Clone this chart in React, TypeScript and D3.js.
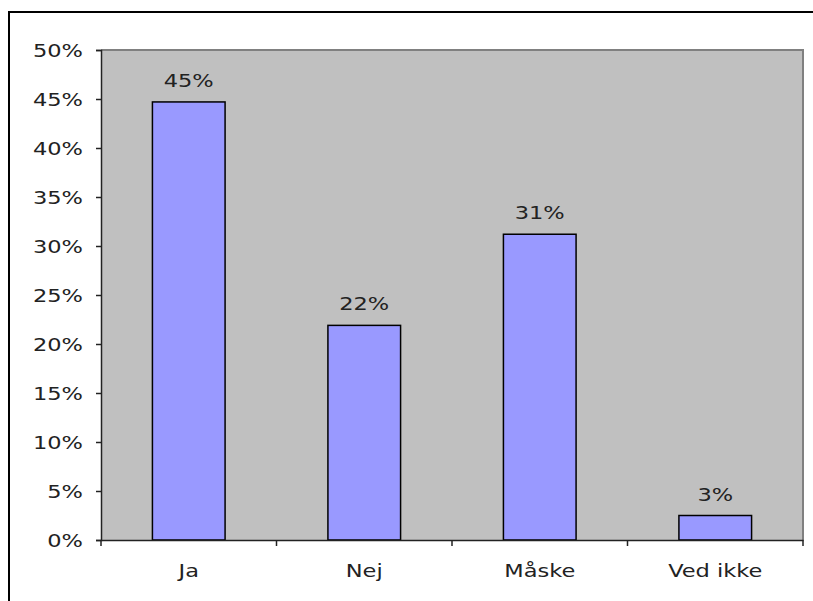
import React, { useEffect, useRef } from 'react';
import * as d3 from 'd3';

const categories = ['Ja', 'Nej', 'Måske', 'Ved ikke'];
const values = [0.447, 0.219, 0.312, 0.025];
const valueLabels = ['45%', '22%', '31%', '3%'];
const yTicks = [0, 0.05, 0.1, 0.15, 0.2, 0.25, 0.3, 0.35, 0.4, 0.45, 0.5];

const W = 813;
const H = 601;
const FONT = '"DejaVu Sans", Verdana, sans-serif';
const FS = 18;
const STRETCH = 1.25;

const App: React.FC = () => {
  const ref = useRef<SVGSVGElement | null>(null);

  useEffect(() => {
    if (!ref.current) return;
    const svg = d3.select(ref.current);
    svg.selectAll('*').remove();

    const left = 101, right = 803, top = 50, bottom = 540;

    // slightly wide text like the original rendering
    const label = (g: d3.Selection<any, any, any, any>, x: number, y: number, txt: string, anchor: string) =>
      g.append('text')
        .attr('transform', `translate(${x},${y}) scale(${STRETCH},1)`)
        .attr('text-anchor', anchor)
        .attr('font-family', FONT)
        .attr('font-size', FS)
        .attr('fill', '#222')
        .text(txt);

    // outer chart frame
    svg.append('rect')
      .attr('x', 9).attr('y', 12)
      .attr('width', W + 10).attr('height', H + 10)
      .attr('fill', '#fff').attr('stroke', '#000').attr('stroke-width', 2);

    const x = d3.scaleBand<string>().domain(categories).range([left, right]);
    const y = d3.scaleLinear().domain([0, 0.5]).range([bottom, top]);

    // plot area
    svg.append('rect')
      .attr('x', left).attr('y', top)
      .attr('width', right - left).attr('height', bottom - top)
      .attr('fill', '#c0c0c0');
    svg.append('path')
      .attr('d', `M${left},${top}H${right}V${bottom}`)
      .attr('fill', 'none').attr('stroke', '#808080').attr('stroke-width', 2);

    const barW = x.bandwidth() * 0.414;

    svg.append('g').selectAll('rect')
      .data(categories)
      .join('rect')
      .attr('x', d => (x(d) as number) + (x.bandwidth() - barW) / 2)
      .attr('y', (d, i) => y(values[i]))
      .attr('width', barW)
      .attr('height', (d, i) => bottom - y(values[i]))
      .attr('fill', '#9999ff')
      .attr('stroke', '#000')
      .attr('stroke-width', 1.5);

    const vl = svg.append('g');
    categories.forEach((c, i) => {
      label(vl, (x(c) as number) + x.bandwidth() / 2, y(values[i]) - 15, valueLabels[i], 'middle');
    });

    // y axis
    const yAxis = svg.append('g')
      .attr('transform', `translate(${left},0)`)
      .call(d3.axisLeft(y).tickValues(yTicks).tickSize(5).tickFormat(() => ''));
    yAxis.select('.domain').attr('stroke', '#222').attr('stroke-width', 1.5);
    yAxis.selectAll('.tick line').attr('stroke', '#222').attr('stroke-width', 1.5);
    const yl = svg.append('g');
    yTicks.forEach(t => {
      label(yl, 83, y(t) + 7, `${Math.round(t * 100)}%`, 'end');
    });

    // x axis
    const xAxis = svg.append('g')
      .attr('transform', `translate(0,${bottom})`)
      .call(d3.axisBottom(x).tickSize(0).tickFormat(() => ''));
    xAxis.select('.domain').attr('stroke', '#222').attr('stroke-width', 1.5);
    const xl = svg.append('g');
    categories.forEach(c => {
      label(xl, (x(c) as number) + x.bandwidth() / 2, 577, c, 'middle');
    });
    // boundary ticks between categories
    const bounds = categories.map(c => x(c) as number).concat([right]);
    svg.append('g').selectAll('line')
      .data(bounds)
      .join('line')
      .attr('x1', d => d).attr('x2', d => d)
      .attr('y1', bottom).attr('y2', bottom + 6)
      .attr('stroke', '#222').attr('stroke-width', 1.5);
  }, []);

  return (
    <svg ref={ref} width={W} height={H}
      style={{ position: 'absolute', left: 0, top: 0, background: '#fff' }} />
  );
};

export default App;
